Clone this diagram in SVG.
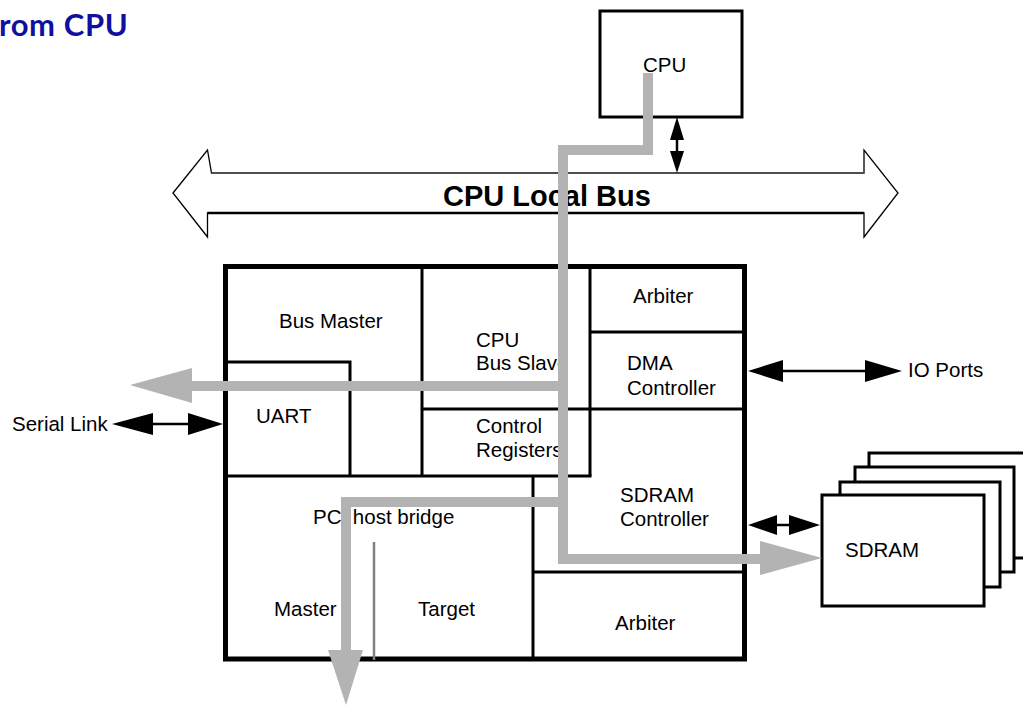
<svg xmlns="http://www.w3.org/2000/svg" width="1023" height="706" viewBox="0 0 1023 706">
<style>
.lbl{font-family:"Liberation Sans",Arial,sans-serif;font-size:20.5px;fill:#000}
.thick{fill:none;stroke:#000;stroke-width:5}
.thin{fill:none;stroke:#000;stroke-width:3}
.box{fill:#fff;stroke:#000;stroke-width:3}
.gray{fill:none;stroke:#b3b3b3;stroke-width:10;stroke-linejoin:miter;stroke-linecap:butt}
.grayhead{fill:#b3b3b3}
.conn{stroke:#000;stroke-width:2.5;fill:none}
.head{fill:#000}
</style>
<rect width="1023" height="706" fill="#fff"/>
<text x="-1" y="36" font-family="Lato,'Liberation Sans',sans-serif" font-weight="bold" font-size="31" letter-spacing="0.6" fill="#1010a0">rom CPU</text>

<g id="cpu">
<rect x="600" y="11" width="142" height="106" fill="#fff" stroke="#000" stroke-width="3"/>
<text class="lbl" x="643" y="72">CPU</text>
</g>

<g id="cpu-local-bus">
<polygon points="173,193 207.5,150 211.5,173 864,173 864,150 898,193 864,237 864,213 207.5,213 207.5,237" fill="#fff" stroke="#000" stroke-width="1.3"/>
<line x1="207.5" y1="213" x2="864" y2="213" stroke="#000" stroke-width="2.5"/>
<line x1="211.5" y1="173" x2="864" y2="173" stroke="#555" stroke-width="1.5"/>
<text x="443" y="206" font-family="'Liberation Sans',Arial,sans-serif" font-weight="bold" font-size="29">CPU Local Bus</text>
</g>

<g id="bridge-chip">
<rect class="thick" x="225.5" y="266.5" width="519" height="392.5"/>
<g id="bus-master">
<polyline class="thin" points="422,266 422,476"/>
<text class="lbl" x="279" y="328">Bus Master</text>
</g>
<g id="uart">
<polyline class="thin" points="226,362 350,362 350,476"/>
<text class="lbl" x="256" y="423">UART</text>
</g>
<g id="cpu-bus-slave">
<line class="thin" x1="590" y1="266" x2="590" y2="476"/>
<line class="thin" x1="422" y1="409" x2="744" y2="409"/>
<text class="lbl" x="476" y="347">CPU</text>
<text class="lbl" x="476" y="370">Bus Slave</text>
</g>
<g id="control-registers">
<line class="thin" x1="226" y1="476" x2="591.5" y2="476"/>
<text class="lbl" x="476" y="433">Control</text>
<text class="lbl" x="476" y="457">Registers</text>
</g>
<g id="arbiter-top">
<line class="thin" x1="590" y1="332" x2="744" y2="332"/>
<text class="lbl" x="633" y="303">Arbiter</text>
</g>
<g id="dma-controller">
<text class="lbl" x="627" y="370">DMA</text>
<text class="lbl" x="627" y="395">Controller</text>
</g>
<g id="sdram-controller">
<line class="thin" x1="533" y1="476" x2="533" y2="659"/>
<line class="thin" x1="533" y1="572" x2="744" y2="572"/>
<text class="lbl" x="620" y="502">SDRAM</text>
<text class="lbl" x="620" y="526">Controller</text>
</g>
<g id="arbiter-bottom">
<text class="lbl" x="615" y="630">Arbiter</text>
</g>
<g id="pci-host-bridge">
<text class="lbl" x="313" y="524">PCI host bridge</text>
<line x1="374" y1="542" x2="374" y2="660" stroke="#808080" stroke-width="2.5"/>
<text class="lbl" x="274" y="616">Master</text>
<text class="lbl" x="418" y="616">Target</text>
</g>
</g>

<g id="sdram">
<rect class="box" x="869" y="453" width="160" height="105"/>
<rect class="box" x="855" y="467" width="159" height="105"/>
<rect class="box" x="840" y="482" width="160" height="105"/>
<rect class="box" x="822" y="495" width="162" height="111"/>
<text class="lbl" x="845" y="557">SDRAM</text>
</g>

<g id="io-ports">
<text class="lbl" x="908" y="377">IO Ports</text>
</g>
<g id="serial-link">
<text class="lbl" x="12" y="431">Serial Link</text>
</g>

<g id="connectors">
<line class="conn" x1="677" y1="135" x2="677" y2="155"/>
<polygon class="head" points="677,117 684,140 670,140"/>
<polygon class="head" points="677,173 684,151 670,151"/>
<line class="conn" x1="775" y1="371" x2="870" y2="371"/>
<polygon class="head" points="748,371 783,360 783,382"/>
<polygon class="head" points="902,371 865,360 865,382"/>
<line class="conn" x1="145" y1="424" x2="195" y2="424"/>
<polygon class="head" points="112,424 153,413 153,435"/>
<polygon class="head" points="223,424 188,413 188,435"/>
<line class="conn" x1="770" y1="525" x2="795" y2="525"/>
<polygon class="head" points="748,525 777,515 777,535"/>
<polygon class="head" points="820,525 789,515 789,535"/>
<polyline class="gray" points="648,73 648,150 563,150 563,559 762,559"/>
<polygon class="grayhead" points="822,558 760,541 760,575"/>
<polyline class="gray" points="563,386 190,386"/>
<polygon class="grayhead" points="130,385 192,368 192,403"/>
<polyline class="gray" points="563,502 346,502 346,652"/>
<polygon class="grayhead" points="346,705 328,650 363,650"/>
</g>
</svg>
